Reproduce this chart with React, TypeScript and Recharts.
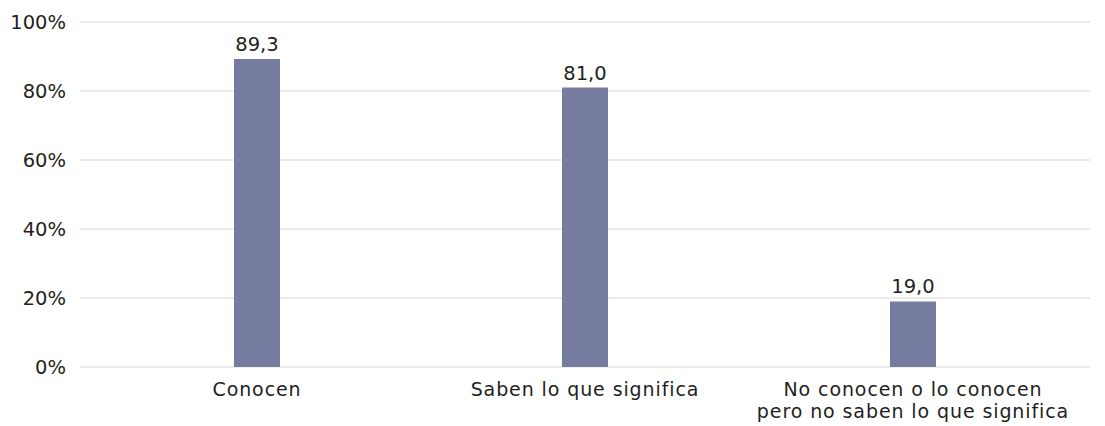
import { BarChart, Bar, XAxis, YAxis, CartesianGrid, LabelList } from "recharts"

const categories = ["Conocen", "Saben lo que significa", "No conocen o lo conocen|pero no saben lo que significa"]
const values = [89.3, 81.0, 19.0]
const yTicks = [0, 20, 40, 60, 80, 100]

const data = categories.map((name, i) => ({ name, value: values[i] }))

const FONT = "'DejaVu Sans', sans-serif"
const TEXT = "#231f20"

// category labels can hold a "|" to split them onto two lines
function CategoryTick(props: any) {
  const { x, y, payload } = props
  const lines = String(payload.value).split("|")
  return (
    <g>
      {lines.map((line, i) => (
        <text
          key={i}
          x={x}
          y={y + 21 + i * 22}
          textAnchor="middle"
          fill={TEXT}
          fontSize={19}
          letterSpacing={0.9}
          fontFamily={FONT}
        >
          {line}
        </text>
      ))}
    </g>
  )
}

export default function App() {
  return (
    <div style={{ position: "absolute", left: 0, top: 0, width: 1105, height: 426, background: "#fff" }}>
      <BarChart width={1105} height={426} data={data} margin={{ top: 22, right: 15, left: 0, bottom: 9 }}>
        <CartesianGrid vertical={false} stroke="#d9d9d9" strokeWidth={1.2} />
        <XAxis
          dataKey="name"
          axisLine={false}
          tickLine={false}
          interval={0}
          height={50}
          padding={{ left: 13, right: 13 }}
          tick={<CategoryTick />}
        />
        <YAxis
          width={80}
          domain={[0, 100]}
          ticks={yTicks}
          axisLine={false}
          tickLine={false}
          tickFormatter={(v) => `${v}%`}
          tick={{ fill: TEXT, fontSize: 19.5, fontFamily: FONT, dx: -6 }}
        />
        <Bar dataKey="value" fill="#757ca0" barSize={46} isAnimationActive={false}>
          <LabelList
            dataKey="value"
            position="top"
            offset={8}
            formatter={(v: any) => Number(v).toFixed(1).replace(".", ",")}
            style={{ fill: TEXT, fontSize: 19.5, fontFamily: FONT }}
          />
        </Bar>
      </BarChart>
    </div>
  )
}
